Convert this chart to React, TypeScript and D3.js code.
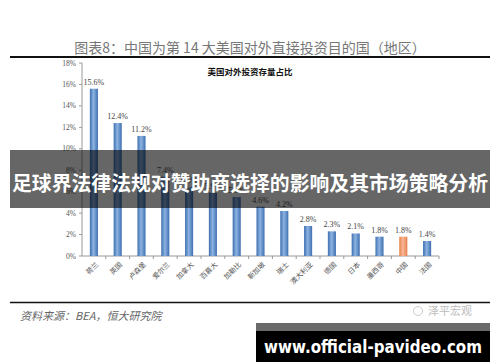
import React from 'react';
import * as d3 from 'd3';

const width = 500, height = 362;
const margin = { top: 63, bottom: 256, left: 82, right: 439 };

// category labels and their stock shares (%)
const countries = ['荷兰', '英国', '卢森堡', '爱尔兰', '加拿大', '百慕大', '加勒比', '新加坡', '瑞士', '澳大利亚', '德国', '日本', '墨西哥', '中国', '法国'];
const shares = [15.6, 12.4, 11.2, 7.4, 6.4, 5.9, 5.5, 4.6, 4.2, 2.8, 2.3, 2.1, 1.8, 1.8, 1.4];
const yTicks = [0, 2, 4, 6, 8, 10, 12, 14, 16, 18];
const highlight = '中国';

const title = '图表8：中国为第 14 大美国对外直接投资目的国（地区）';
const subtitle = '美国对外投资存量占比';
const source = '资料来源：BEA，恒大研究院';
const banner = '足球界法律法规对赞助商选择的影响及其市场策略分析';
const url = 'www.official-pavideo.com';

const serif = '"Liberation Serif", "Noto Sans CJK SC", serif';
const cjk = '"Noto Sans CJK SC", sans-serif';

export default function App() {
    // scales for bars
    const xScale = d3.scaleBand<string>()
        .domain(countries)
        .range([margin.left, margin.right])
        .paddingInner(0.66)
        .paddingOuter(0.33);
    const yScale = d3.scaleLinear()
        .domain([0, 18])
        .range([margin.bottom, margin.top]);

    const step = xScale.step();
    const bw = xScale.bandwidth();

    return (
        <svg width={width} height={height} viewBox={`0 0 ${width} ${height}`}
            style={{ position: 'absolute', left: 0, top: 0, background: '#fff' }}>
            <defs>
                <linearGradient id="blueBar" x1="0" x2="1" y1="0" y2="0">
                    <stop offset="0" stopColor="#3d6fb0" />
                    <stop offset="0.45" stopColor="#8db3e2" />
                    <stop offset="1" stopColor="#3d6fb0" />
                </linearGradient>
                <linearGradient id="orangeBar" x1="0" x2="1" y1="0" y2="0">
                    <stop offset="0" stopColor="#e8804a" />
                    <stop offset="0.45" stopColor="#f9b898" />
                    <stop offset="1" stopColor="#e8804a" />
                </linearGradient>
            </defs>
            <rect x={0} y={0} width={width} height={height} fill="#fff" />

            {/* heading */}
            <text x={250} y={53} textAnchor="middle" fontFamily={cjk} fontSize={14} fill="#777">{title}</text>
            <line x1={10} x2={490} y1={57} y2={57} stroke="#111" strokeWidth={2} />
            <text x={250} y={75} textAnchor="middle" fontFamily={cjk} fontWeight="bold" fontSize={8.5} fill="#111">{subtitle}</text>

            {/* y axis */}
            <line x1={margin.left} x2={margin.left} y1={margin.top} y2={margin.bottom} stroke="#999" />
            {yTicks.map(t => (
                <g key={t}>
                    <line x1={margin.left - 3} x2={margin.left} y1={yScale(t)} y2={yScale(t)} stroke="#999" />
                    <text x={margin.left - 6} y={yScale(t) + 2.5} textAnchor="end" fontFamily={serif} fontSize={7.5} fill="#555">{t}%</text>
                </g>
            ))}

            {/* x axis */}
            <line x1={margin.left} x2={margin.right} y1={margin.bottom} y2={margin.bottom} stroke="#999" />
            {countries.map((c, i) => {
                const x0 = margin.left + i * step;
                return <line key={c} x1={x0 + step} x2={x0 + step} y1={margin.bottom} y2={margin.bottom + 3} stroke="#999" />;
            })}

            {/* bars and value labels */}
            {countries.map((c, i) => {
                const x = xScale(c) as number;
                const y = yScale(shares[i]);
                return (
                    <g key={c}>
                        <rect x={x} y={y} width={bw} height={margin.bottom - y}
                            fill={c === highlight ? 'url(#orangeBar)' : 'url(#blueBar)'} />
                        <text x={x + bw / 2} y={y - 4} textAnchor="middle" fontFamily={serif} fontSize={8} fill="#444">{shares[i].toFixed(1)}%</text>
                        <text transform={`translate(${x + bw / 2 + 5}, ${margin.bottom + 9}) rotate(-45)`}
                            textAnchor="end" fontFamily={cjk} fontSize={7} fill="#555">{c}</text>
                    </g>
                );
            })}

            {/* footer */}
            <line x1={10} x2={490} y1={302.5} y2={302.5} stroke="#111" strokeWidth={1.5} />
            <text x={20} y={320} fontFamily={cjk} fontStyle="italic" fontSize={11} fill="#666">{source}</text>
            <circle cx={418} cy={311} r={4.5} fill="none" stroke="#ccc" strokeWidth={1} />
            <text x={428} y={315} fontFamily={cjk} fontSize={11} fill="#bbb">泽平宏观</text>

            {/* overlay banner */}
            <rect x={10} y={150} width={480} height={58} fill="#000" opacity={0.6} />
            <text x={250} y={191} textAnchor="middle" fontFamily={cjk} fontWeight="bold" fontSize={20} fill="#fff"
                textLength={476} lengthAdjust="spacingAndGlyphs">{banner}</text>

            {/* url badge */}
            <rect x={256} y={323} width={234} height={39} fill="#000" />
            <rect x={256} y={323} width={234} height={8} fill="#6a6a6a" />
            <text x={373} y={353} textAnchor="middle" fontFamily='"DejaVu Sans", sans-serif' fontWeight="bold" fontSize={17.5} fill="#fff"
                textLength={218} lengthAdjust="spacingAndGlyphs">{url}</text>
        </svg>
    );
}
